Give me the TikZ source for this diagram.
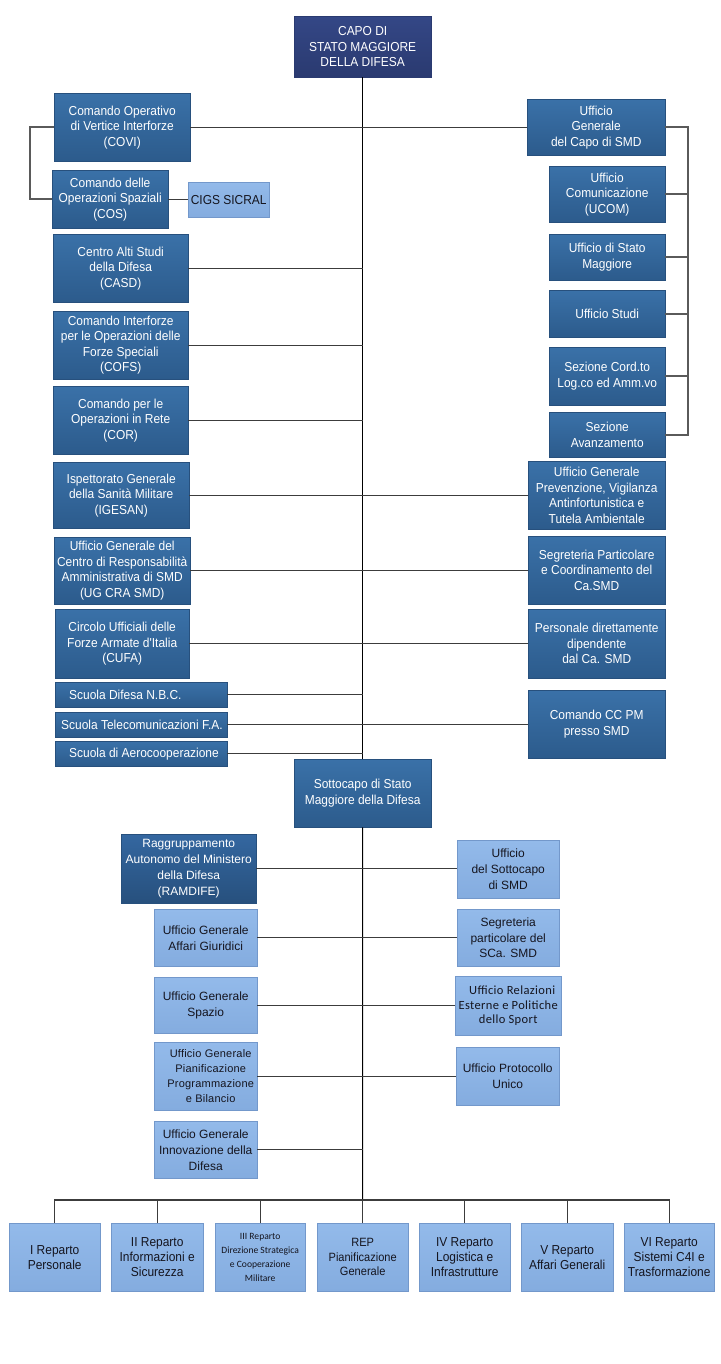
\documentclass[tikz,border=0pt]{standalone}
\usepackage{fontspec}
\setmainfont{Liberation Sans}
\newfontfamily\calib{Carlito}
\newfontfamily\calibw[LetterSpace=3]{Carlito}
\newfontfamily\arw[LetterSpace=2]{Liberation Sans}
\newfontfamily\nar[FakeStretch=0.92]{Liberation Sans}
\definecolor{navyA}{HTML}{344786}
\definecolor{navyB}{HTML}{2A3A70}
\definecolor{stA}{HTML}{3A71A8}
\definecolor{stB}{HTML}{2C5B8C}
\definecolor{stD}{HTML}{27507D}
\definecolor{stR}{HTML}{3467A0}
\definecolor{ltA}{HTML}{93BAEA}
\definecolor{ltB}{HTML}{84ACDF}
\definecolor{ltD}{HTML}{7398CB}
\definecolor{lineg}{HTML}{3C3C3C}
\definecolor{brkg}{HTML}{5A5A5A}
\definecolor{txtd}{HTML}{15151F}
\newcommand{\lft}[2][164pt]{\makebox[#1][l]{#2}}
\tikzset{
  bx/.style={rectangle, anchor=north west, inner sep=0pt, align=center},
  navybox/.style={bx, top color=navyA, bottom color=navyB, draw=navyB, text=white, font=\nar\fontsize{13}{15.5}\selectfont},
  dbox/.style={bx, top color=stA, bottom color=stB, draw=stD, text=white, font=\nar\fontsize{13}{15.5}\selectfont},
  ddbox/.style={bx, top color=stR, bottom color=stD, draw=stD, text=white, font=\fontsize{12}{16}\selectfont},
  lbox/.style={bx, top color=ltA, bottom color=ltB, draw=ltD, text=txtd, font=\fontsize{12}{16}\selectfont},
  rbox/.style={bx, top color=ltA, bottom color=ltB, draw=ltD, text=txtd, font=\nar\fontsize{13}{15}\selectfont},
  conn/.style={draw=lineg, line width=1.1pt},
  mainl/.style={draw=black, line width=1pt},
  brk/.style={draw=brkg, line width=1.6pt}
}
\begin{document}
\begin{tikzpicture}[x=1pt,y=-1pt]
\useasboundingbox[fill=white] (0,0) rectangle (720,1364);

% top
\node[navybox, minimum width=137pt, minimum height=61pt] (capo) at (294,16) {CAPO DI\\STATO MAGGIORE\\DELLA DIFESA};

% left column
\node[dbox, minimum width=136pt, minimum height=68pt] (covi) at (54,93) {Comando Operativo\\di Vertice Interforze\\(COVI)};
\node[dbox, minimum width=116pt, minimum height=58pt] (cos) at (52,170) {Comando delle\\Operazioni Spaziali\\(COS)};
\node[lbox, minimum width=81pt, minimum height=35pt, font=\nar\fontsize{13}{13}\selectfont] (cigs) at (188,182) {CIGS SICRAL};
\node[dbox, minimum width=135pt, minimum height=68pt] (casd) at (53,234) {Centro Alti Studi\\della Difesa\\(CASD)};
\node[dbox, minimum width=135pt, minimum height=68pt] (cofs) at (53,311) {Comando Interforze\\per le Operazioni delle\\Forze Speciali\\(COFS)};
\node[dbox, minimum width=135pt, minimum height=68pt] (cor) at (53,386) {Comando per le\\Operazioni in Rete\\(COR)};
\node[dbox, minimum width=136pt, minimum height=66pt] (igesan) at (53,462) {Ispettorato Generale\\della Sanità Militare\\(IGESAN)};
\node[dbox, minimum width=136pt, minimum height=67pt] (ugcra) at (54,537) {Ufficio Generale del\\Centro di Responsabilità\\Amministrativa di SMD\\(UG CRA SMD)};
\node[dbox, minimum width=134pt, minimum height=69pt] (cufa) at (55,609) {Circolo Ufficiali delle\\Forze Armate d'Italia\\(CUFA)};
\node[dbox, minimum width=172pt, minimum height=25pt] (nbc) at (55,682) {\lft{\hspace*{10pt}Scuola Difesa N.B.C.}};
\node[dbox, minimum width=172pt, minimum height=25pt] (tele) at (55,712) {\lft{\hspace*{2pt}Scuola Telecomunicazioni F.A.}};
\node[dbox, minimum width=172pt, minimum height=25pt] (aero) at (55,741) {\lft{\hspace*{10pt}Scuola di Aerocooperazione}};

% right column
\node[dbox, minimum width=138pt, minimum height=56pt] (ugcapo) at (527,99) {Ufficio\\Generale\\del Capo di SMD};
\node[dbox, minimum width=116pt, minimum height=56pt] (ucom) at (549,166) {Ufficio\\Comunicazione\\(UCOM)};
\node[dbox, minimum width=116pt, minimum height=46pt] (usm) at (549,234) {Ufficio di Stato\\Maggiore};
\node[dbox, minimum width=116pt, minimum height=47pt] (ustudi) at (549,290) {Ufficio Studi};
\node[dbox, minimum width=116pt, minimum height=58pt] (sezcord) at (549,347) {Sezione Cord.to\\Log.co ed Amm.vo};
\node[dbox, minimum width=116pt, minimum height=45pt] (sezav) at (549,412) {Sezione\\Avanzamento};
\node[dbox, minimum width=137pt, minimum height=68pt] (ugprev) at (528,461) {Ufficio Generale\\Prevenzione, Vigilanza\\Antinfortunistica e\\Tutela Ambientale};
\node[dbox, minimum width=137pt, minimum height=68pt] (segr) at (528,536) {Segreteria Particolare\\e Coordinamento del\\Ca.SMD};
\node[dbox, minimum width=137pt, minimum height=69pt] (pers) at (528,609) {Personale direttamente\\dipendente\\dal Ca. SMD};
\node[dbox, minimum width=137pt, minimum height=68pt] (cccpm) at (528,690) {Comando CC PM\\presso SMD};

% sottocapo
\node[dbox, minimum width=137pt, minimum height=68pt] (sotto) at (294,759) {Sottocapo di Stato\\Maggiore della Difesa};

% sub section
\node[ddbox, minimum width=135pt, minimum height=69pt] (ramdife) at (121,834) {Raggruppamento\\Autonomo del Ministero\\della Difesa\\(RAMDIFE)};
\node[lbox, minimum width=102pt, minimum height=58pt] (usotto) at (457,840) {Ufficio\\del Sottocapo\\di SMD};
\node[lbox, minimum width=103pt, minimum height=57pt] (ugaff) at (154,909) {Ufficio Generale\\Affari Giuridici};
\node[lbox, minimum width=102pt, minimum height=57pt] (segsca) at (457,909) {Segreteria\\particolare del\\SCa. SMD};
\node[lbox, minimum width=103pt, minimum height=56pt] (ugspazio) at (154,977) {Ufficio Generale\\Spazio};
\node[lbox, minimum width=106pt, minimum height=59pt, font=\calibw\fontsize{12.5}{14.5}\selectfont] (urel) at (455,976) {\hspace*{8pt}Ufficio Relazioni\\Esterne e Politiche\\dello Sport};
\node[lbox, minimum width=103pt, minimum height=68pt, font=\arw\fontsize{11}{15}\selectfont] (ugpian) at (154,1042) {\hspace*{10pt}Ufficio Generale\\\hspace*{10pt}Pianificazione\\\hspace*{10pt}Programmazione\\\hspace*{10pt}e Bilancio};
\node[lbox, minimum width=103pt, minimum height=58pt] (uprot) at (456,1047) {Ufficio Protocollo\\Unico};
\node[lbox, minimum width=103pt, minimum height=57pt] (uginn) at (154,1121) {Ufficio Generale\\Innovazione della\\Difesa};

% reparti
\node[rbox, minimum width=91pt, minimum height=68pt] (r1) at (9,1223) {I Reparto\\Personale};
\node[rbox, minimum width=92pt, minimum height=68pt] (r2) at (111,1223) {II Reparto\\Informazioni e\\Sicurezza};
\node[rbox, minimum width=90pt, minimum height=68pt, font=\calib\fontsize{9.6}{14}\selectfont] (r3) at (215,1223) {III Reparto\\Direzione Strategica\\e Cooperazione\\Militare};
\node[rbox, minimum width=91pt, minimum height=68pt, font=\nar\fontsize{12}{14.5}\selectfont] (r4) at (317,1223) {REP\\Pianificazione\\Generale};
\node[rbox, minimum width=91pt, minimum height=68pt] (r5) at (419,1223) {IV Reparto\\Logistica e\\Infrastrutture};
\node[rbox, minimum width=92pt, minimum height=68pt] (r6) at (521,1223) {V Reparto\\Affari Generali};
\node[rbox, minimum width=90pt, minimum height=68pt] (r7) at (624,1223) {VI Reparto\\Sistemi C4I e\\Trasformazione};

\coordinate (bar) at (362.5,1200);
\coordinate (rb) at (688,0);
\coordinate (lb) at (30,0);

% main spine
\draw[mainl] (capo.south) -- (sotto.north);
\draw[mainl] (sotto.south) -- (bar);

% left/right connectors upper section
\draw[conn] (covi.east) -- (covi.east -| ugcapo.west);
\draw[conn] (cos.east) -- (cos.east -| cigs.west);
\draw[conn] (casd.east) -- (casd.east -| capo.south);
\draw[conn] (cofs.east) -- (cofs.east -| capo.south);
\draw[conn] (cor.east) -- (cor.east -| capo.south);
\draw[conn] (igesan.east) -- (igesan.east -| ugprev.west);
\draw[conn] (ugcra.east) -- (ugcra.east -| segr.west);
\draw[conn] (cufa.east) -- (cufa.east -| pers.west);
\draw[conn] (nbc.east) -- (nbc.east -| capo.south);
\draw[conn] (tele.east) -- (tele.east -| cccpm.west);
\draw[conn] (aero.east) -- (aero.east -| capo.south);

% brackets
\draw[brk] (covi.west) -- (covi.west -| lb) |- (cos.west);
\draw[brk] (ugcapo.east) -- (ugcapo.east -| rb) |- (sezav.east);
\draw[brk] (ucom.east) -- (ucom.east -| rb);
\draw[brk] (usm.east) -- (usm.east -| rb);
\draw[brk] (ustudi.east) -- (ustudi.east -| rb);
\draw[brk] (sezcord.east) -- (sezcord.east -| rb);

% sub section connectors
\draw[conn] (ramdife.east) -- (ramdife.east -| usotto.west);
\draw[conn] (ugaff.east) -- (ugaff.east -| segsca.west);
\draw[conn] (ugspazio.east) -- (ugspazio.east -| urel.west);
\draw[conn] (ugpian.east) -- (ugpian.east -| uprot.west);
\draw[conn] (uginn.east) -- (uginn.east -| bar);

% reparti bar
\draw[conn] (r1.north) |- (bar) -| (r7.north);
\draw[conn] (r2.north) -- (r2.north |- bar);
\draw[conn] (r3.north) -- (r3.north |- bar);
\draw[conn] (r4.north) -- (r4.north |- bar);
\draw[conn] (r5.north) -- (r5.north |- bar);
\draw[conn] (r6.north) -- (r6.north |- bar);
\end{tikzpicture}
\end{document}
